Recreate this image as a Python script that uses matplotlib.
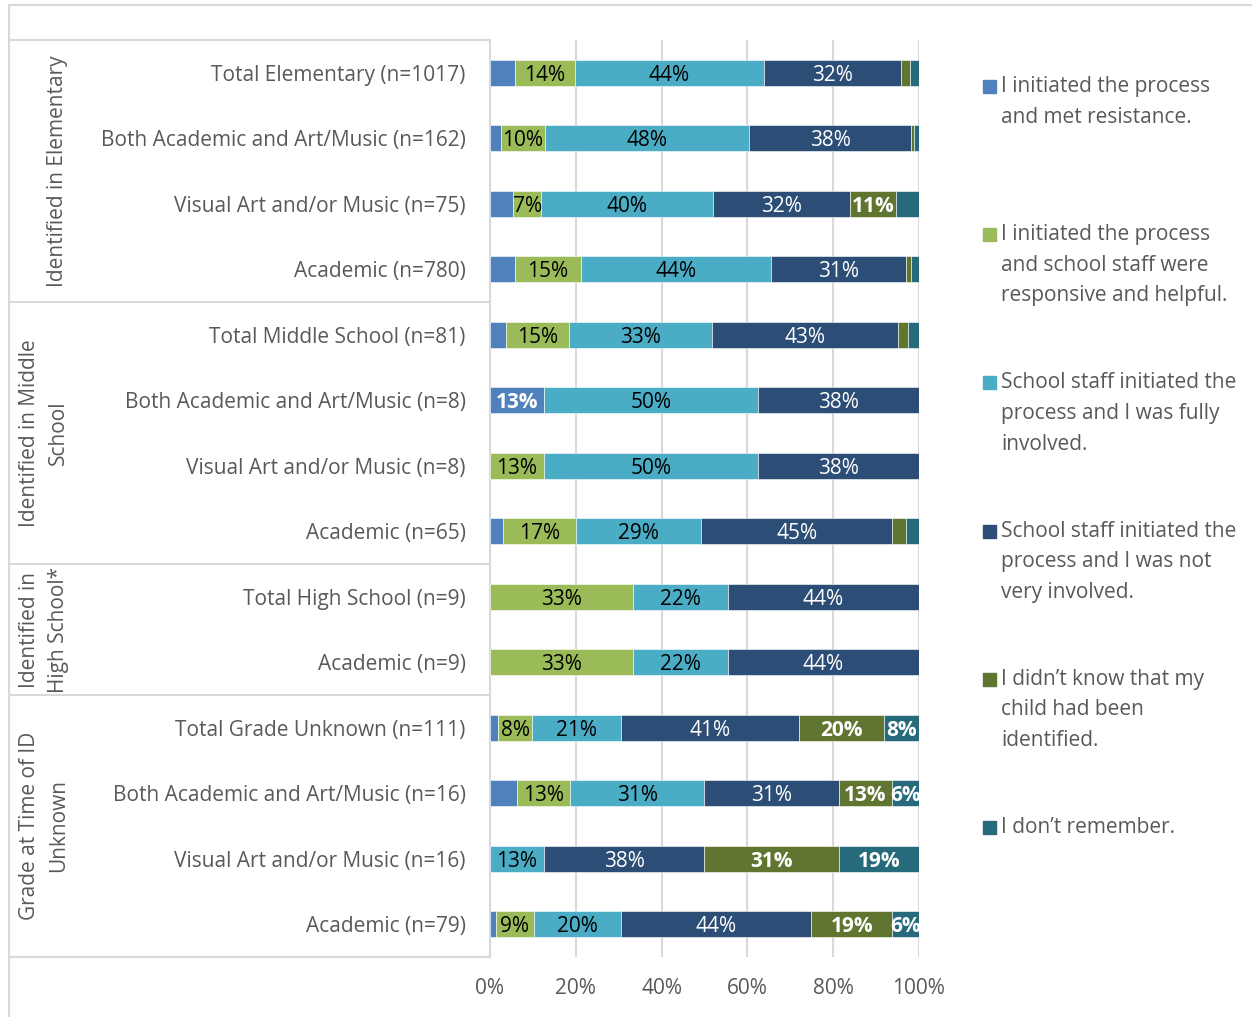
"""
Stacked bar chart - how the identification process started, by grade at ID.
"""

import math
import matplotlib.pyplot as plt
from matplotlib.lines import Line2D
from matplotlib.patches import Rectangle
from matplotlib.transforms import blended_transform_factory

plt.rcParams['font.family'] = ['Open Sans', 'DejaVu Sans']

# rows, top to bottom
categories = [
    'Total Elementary (n=1017)',
    'Both Academic and Art/Music (n=162)',
    'Visual Art and/or Music (n=75)',
    'Academic (n=780)',
    'Total Middle School (n=81)',
    'Both Academic and Art/Music (n=8)',
    'Visual Art and/or Music (n=8)',
    'Academic (n=65)',
    'Total High School (n=9)',
    'Academic (n=9)',
    'Total Grade Unknown (n=111)',
    'Both Academic and Art/Music (n=16)',
    'Visual Art and/or Music (n=16)',
    'Academic (n=79)',
]

groups = ['Identified in Elementary', 'Identified in Middle\nSchool',
          'Identified in\nHigh School*', 'Grade at Time of ID\nUnknown']
group_sizes = [4, 4, 2, 4]

series_names = [
    'I initiated the process\nand met resistance.',
    'I initiated the process\nand school staff were\nresponsive and helpful.',
    'School staff initiated the\nprocess and I was fully\ninvolved.',
    'School staff initiated the\nprocess and I was not\nvery involved.',
    'I didn\u2019t know that my\nchild had been\nidentified.',
    'I don\u2019t remember.',
]

resisted = [5.8, 2.5, 5.3, 5.8, 3.7, 12.5, 0, 3.1, 0, 0, 1.8, 6.25, 0, 1.3]
helpful = [14.0, 10.3, 6.7, 15.4, 14.8, 0, 12.5, 16.9, 33.3, 33.3, 8.1, 12.5, 0, 8.9]
fully = [44.0, 47.6, 40.0, 44.3, 33.3, 50.0, 50.0, 29.2, 22.2, 22.2, 20.7, 31.25, 12.5, 20.3]
not_involved = [32.0, 37.8, 32.0, 31.4, 43.2, 37.5, 37.5, 44.6, 44.4, 44.4, 41.4, 31.25, 37.5, 44.3]
didnt_know = [2.1, 0.6, 10.7, 1.3, 2.5, 0, 0, 3.1, 0, 0, 19.8, 12.5, 31.25, 19.0]
dont_remember = [2.1, 1.2, 5.3, 1.8, 2.5, 0, 0, 3.1, 0, 0, 8.1, 6.25, 18.75, 6.3]

series = [resisted, helpful, fully, not_involved, didnt_know, dont_remember]
colors = ['#4F81BD', '#9BBB59', '#4BACC6', '#2C4D75', '#5F7530', '#276A7C']
label_colors = ['white', 'black', 'black', 'white', 'white', 'white']
label_weights = ['bold', 'normal', 'normal', 'normal', 'bold', 'bold']
min_label = [7, 6, 6, 6, 6, 6]

GRAY = '#595959'
LINE = '#D9D9D9'
FS = 15
W, H = 1252, 1017

fig = plt.figure(figsize=(W / 100, H / 100), dpi=100)
ax = fig.add_axes([490 / W, 1 - 957 / H, 429 / W, 917 / H])

ypos = list(range(len(categories)))
left = [0.0] * len(categories)
for k, vals in enumerate(series):
    bars = ax.barh(ypos, vals, left=left, height=0.4, color=colors[k],
                   edgecolor='white', linewidth=0.4, zorder=3)
    for bar, v in zip(bars, vals):
        if v >= min_label[k]:
            ax.text(bar.get_x() + bar.get_width() / 2, bar.get_y() + bar.get_height() / 2,
                    f'{math.floor(v + 0.5)}%', ha='center', va='center_baseline',
                    color=label_colors[k], fontweight=label_weights[k],
                    fontsize=FS, zorder=4)
    left = [a + b for a, b in zip(left, vals)]

ax.set_xlim(0, 100)
ax.set_ylim(len(categories) - 0.5, -0.5)
ax.set_xticks([0, 20, 40, 60, 80, 100])
ax.set_xticklabels(['0%', '20%', '40%', '60%', '80%', '100%'])
ax.set_yticks(ypos)
ax.set_yticklabels(categories)
ax.tick_params(axis='both', length=0, colors=GRAY, labelsize=FS)
ax.tick_params(axis='y', pad=17.5)
ax.tick_params(axis='x', pad=15)
ax.grid(True, axis='x', color=LINE, linewidth=1.5, zorder=0)
for s in ['top', 'right', 'bottom']:
    ax.spines[s].set_visible(False)
ax.spines['left'].set_color(LINE)
ax.spines['left'].set_linewidth(1.5)

# multi-level category box
trans = blended_transform_factory(ax.transAxes, ax.transData)
x_box = (9 - 490) / 429
bounds = [-0.5]
for g in group_sizes:
    bounds.append(bounds[-1] + g)
for b in bounds:
    ax.plot([x_box, 0], [b, b], color=LINE, lw=1.5, transform=trans, clip_on=False)
for name, lo, hi in zip(groups, bounds[:-1], bounds[1:]):
    xg = (57 - 490) / 429 if '\n' not in name else (44 - 490) / 429
    ax.text(xg, (lo + hi) / 2, name, rotation=90, ha='center', va='center',
            multialignment='center', color=GRAY, fontsize=FS,
            linespacing=1.5, transform=trans)

# chart area frame
fig.add_artist(Line2D([9 / W, 1], [1 - 5 / H, 1 - 5 / H], color=LINE, lw=1.5))
fig.add_artist(Line2D([9 / W, 9 / W], [0, 1 - 5 / H], color=LINE, lw=1.5))

# legend
for k, name in enumerate(series_names):
    yc = 86 + k * 148.2
    fig.add_artist(Rectangle((983 / W, 1 - (yc + 7) / H), 13 / W, 13 / H,
                             color=colors[k], transform=fig.transFigure))
    fig.text(1001 / W, 1 - (yc - 10) / H, name, ha='left', va='top',
             color=GRAY, fontsize=FS, linespacing=1.6)

fig.savefig('out.png', dpi=100)
plt.close()
